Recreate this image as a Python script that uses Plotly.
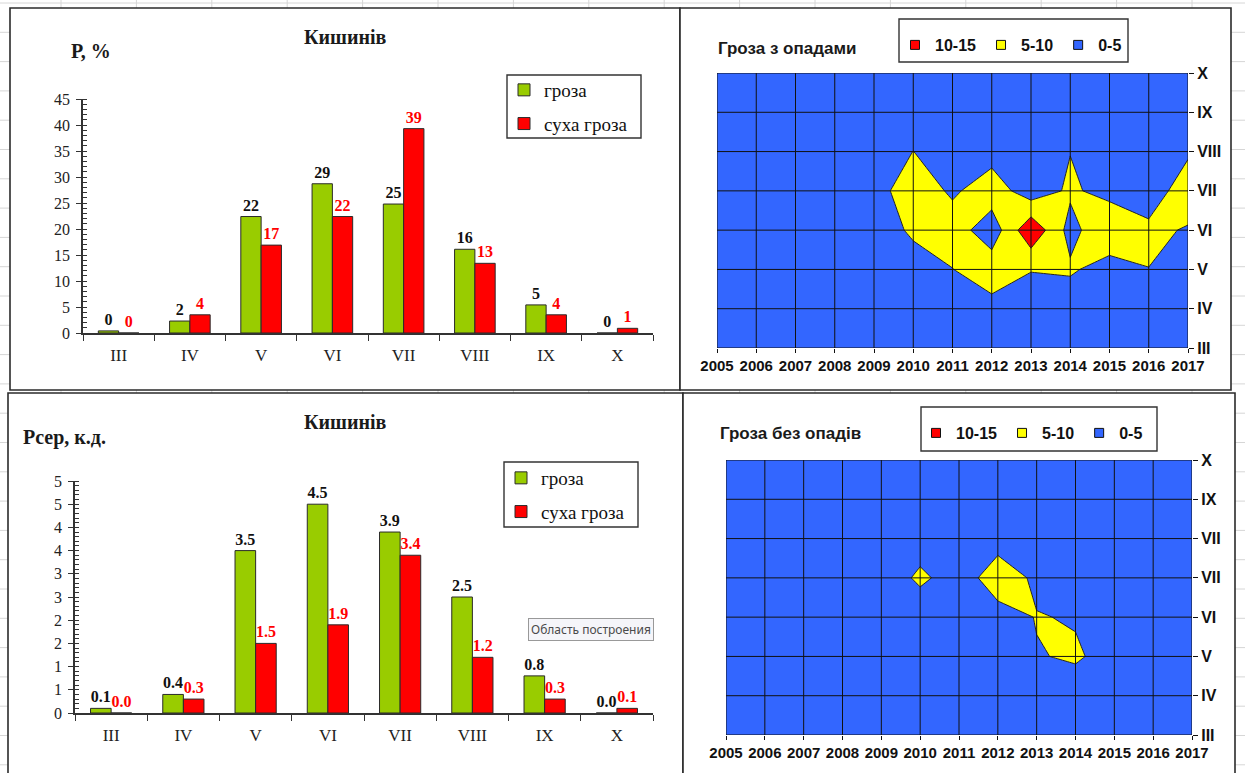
import plotly.graph_objects as go

W, H = 1245, 773

# ---------------------------------------------------------------- data
months = ["III", "IV", "V", "VI", "VII", "VIII", "IX", "X"]
month_num = [3, 4, 5, 6, 7, 8, 9, 10]
years = list(range(2005, 2018))

# Кишинів: повторюваність гроз, %
p_groza = [0.4, 2.3, 22.4, 28.7, 24.8, 16.1, 5.4, 0.0]
p_dry = [0.0, 3.5, 16.9, 22.4, 39.3, 13.4, 3.5, 0.9]
p_ticks = [0, 5, 10, 15, 20, 25, 30, 35, 40, 45]

# Кишинів: середня кількість днів з грозою
d_groza = [0.1, 0.4, 3.5, 4.5, 3.9, 2.5, 0.8, 0.0]
d_dry = [0.0, 0.3, 1.5, 1.9, 3.4, 1.2, 0.3, 0.1]
d_tick_vals = [0, 0.5, 1, 1.5, 2, 2.5, 3, 3.5, 4, 4.5, 5]
d_tick_text = ["0", "1", "1", "2", "2", "3", "3", "4", "4", "5", "5"]

# thunderstorm days by month (rows III..X) and year (columns 2005..2017)
rain_z = [
    [0, 0, 0, 0, 0, 0, 0, 0, 0, 0, 0, 0, 0],                    # III
    [0, 1, 0, 1, 1, 2, 2, 3.2, 1, 1.2, 1, 1, 0],                # IV
    [1, 0, 1, 1, 2, 4.2, 4.9, 8, 5.3, 5.8, 2.5, 4.95, 2],       # V
    [1, 1, 2, 1, 4, 5.3, 7.6, 2, 14, 3.2, 9.5, 5.8, 4.7],       # VI
    [1, 2, 1, 2, 2.8, 8.1, 4.2, 7.8, 2.2, 5.8, 3.3, 3, 7],      # VII
    [1, 1, 2, 1, 2, 5.05, 2, 3, 2, 4.9, 2, 3, 4.5],             # VIII
    [0, 1, 0, 1, 1, 1, 2, 1, 2, 1, 1, 2, 1],                    # IX
    [0, 0, 0, 0, 0, 0, 0, 0, 0, 0, 0, 0, 0],                    # X
]
dry_z = [
    [0, 0, 0, 0, 0, 0, 0, 0, 0, 0, 0, 0, 0],                    # III
    [0, 0, 0, 0, 0, 0, 1, 1, 1, 2.9, 1, 0, 0],                  # IV
    [0, 0, 1, 0, 1, 1, 1, 1, 4.75, 5.5, 3.5, 1, 0],             # V
    [0, 0, 1, 1, 1, 1, 2, 2.9, 5.2, 4.7, 2, 1, 0],              # VI
    [0, 0, 1, 1, 1, 6.2, 2.1, 8, 4, 2, 1, 1, 0],                # VII
    [0, 0, 0, 1, 1, 2, 1, 2.74, 1, 1, 0, 0, 0],                 # VIII
    [0, 0, 0, 0, 1, 0, 1, 1, 0, 0, 0, 0, 0],                    # IX
    [0, 0, 0, 0, 0, 0, 0, 0, 0, 0, 0, 0, 0],                    # X
]
band_names = ["10-15", "5-10", "0-5"]

# ---------------------------------------------------------------- style
SERIF = "Liberation Serif, Times New Roman, serif"
SANS = "Liberation Sans, Arial, sans-serif"
GREEN, RED, YELLOW, BLUE = "#99CC00", "#FF0000", "#FFFF00", "#3366FF"
INK = "#1a1a1a"


def fx(px):
    return px / W


def fy(py):
    return 1 - py / H


fig = go.Figure()


def add_bars(values, name, color, txtcolor, fmt, xa, ya, legend):
    fig.add_trace(go.Bar(
        x=months, y=values, name=name, xaxis=xa, yaxis=ya, legend=legend,
        legendgroup=legend + name,
        marker=dict(color=color, line=dict(color="#2a2a2a", width=1)),
        texttemplate="<b>" + fmt + "</b>", textposition="outside",
        textangle=0, constraintext="none", cliponaxis=False,
        textfont=dict(family=SERIF, size=16, color=txtcolor),
        hoverinfo="skip",
    ))


add_bars(p_groza, "гроза", GREEN, "#111111", "%{y:.0f}", "x", "y", "legend")
add_bars(p_dry, "суха гроза", RED, RED, "%{y:.0f}", "x", "y", "legend")
add_bars(d_groza, "гроза", GREEN, "#111111", "%{y:.1f}", "x2", "y2", "legend2")
add_bars(d_dry, "суха гроза", RED, RED, "%{y:.1f}", "x2", "y2", "legend2")

band_scale = [[0, BLUE], [0.25, BLUE], [0.25, YELLOW], [0.75, YELLOW],
              [0.75, RED], [1, RED]]
band_colors = [RED, YELLOW, BLUE]

for z, xa, ya, lg in [(rain_z, "x3", "y3", "legend3"),
                      (dry_z, "x4", "y4", "legend4")]:
    fig.add_trace(go.Contour(
        x=years, y=month_num, z=z, xaxis=xa, yaxis=ya,
        contours=dict(start=5, end=10, size=5, coloring="fill"),
        colorscale=band_scale, showscale=False,
        line=dict(color="#222222", width=1, smoothing=0),
        hoverinfo="skip", showlegend=False,
    ))
    for nm, col in zip(band_names, band_colors):
        fig.add_trace(go.Scatter(
            x=[None], y=[None], mode="markers", name=nm, xaxis=xa, yaxis=ya,
            legend=lg,
            marker=dict(symbol="square", size=9, color=col,
                        line=dict(color="#111111", width=1)),
        ))

# ---------------------------------------------------------------- shapes
shapes = []
# spreadsheet cell lines behind the chart panels
for k in range(17):
    xp = 61 + 75.4 * k
    shapes.append(dict(type="line", xref="paper", yref="paper", layer="below",
                       x0=fx(xp), x1=fx(xp), y0=0, y1=1,
                       line=dict(color="#d6d6d6", width=1)))
for k in range(27):
    yp = 3 + 29.3 * k
    shapes.append(dict(type="line", xref="paper", yref="paper", layer="below",
                       x0=0, x1=1, y0=fy(yp), y1=fy(yp),
                       line=dict(color="#d6d6d6", width=1)))

# chart panels
for (x0, y0, x1, y1) in [(10, 8, 680, 390), (680, 8, 1231, 390),
                         (8, 393, 683, 790), (683, 393, 1235, 790)]:
    shapes.append(dict(type="rect", xref="paper", yref="paper", layer="below",
                       x0=fx(x0), x1=fx(x1), y0=fy(y1), y1=fy(y0),
                       fillcolor="white", line=dict(color="#2b2b2b", width=1.6)))

# legend frames
for (x0, y0, x1, y1) in [(507, 75, 641, 138), (504, 462, 638, 527),
                         (899, 19, 1128, 62), (921, 407, 1157, 451)]:
    shapes.append(dict(type="rect", xref="paper", yref="paper", layer="below",
                       x0=fx(x0), x1=fx(x1), y0=fy(y1), y1=fy(y0),
                       fillcolor="white", line=dict(color="#333333", width=1.4)))

# cell grid drawn over the contour fills
for xa, ya in [("x3", "y3"), ("x4", "y4")]:
    for yr in years:
        shapes.append(dict(type="line", xref=xa, yref=ya, layer="above",
                           x0=yr, x1=yr, y0=month_num[0], y1=month_num[-1],
                           line=dict(color="#111111", width=1)))
    for m in month_num:
        shapes.append(dict(type="line", xref=xa, yref=ya, layer="above",
                           x0=years[0], x1=years[-1], y0=m, y1=m,
                           line=dict(color="#111111", width=1)))

# right edge of the lower map clips its axis labels
shapes.append(dict(type="rect", xref="paper", yref="paper", layer="above",
                   x0=fx(1221), x1=fx(1233), y0=fy(552), y1=fy(528),
                   fillcolor="white", line=dict(width=0)))

# ---------------------------------------------------------------- text
def note(text, x, y, size, family, xanchor="center", color=INK, bold=True, **kw):
    return dict(text=text, x=fx(x), y=fy(y), xref="paper", yref="paper",
                xanchor=xanchor, yanchor="middle", showarrow=False,
                font=dict(family=family, size=size, color=color,
                          weight="bold" if bold else "normal"), **kw)


annotations = [
    note("Кишинів", 345, 37, 20, SERIF),
    note("Р, %", 69, 51, 20, SERIF, xanchor="left"),
    note("Кишинів", 345, 422, 20, SERIF),
    note("Рсер, к.д.", 21, 437, 20, SERIF, xanchor="left"),
    note("Гроза з опадами", 716, 48, 17, SANS, xanchor="left"),
    note("Гроза без опадів", 718, 433, 17, SANS, xanchor="left"),
    note("Область построения", 591, 629, 12, "Noto Sans", color="#4a4a4a",
         bold=False, bgcolor="#f5f5f9", bordercolor="#999999", borderwidth=1,
         borderpad=2),
]

# ---------------------------------------------------------------- axes
def bar_xaxis(x0, x1, anchor):
    return dict(domain=[fx(x0), fx(x1)], anchor=anchor, type="category",
                automargin=False,
                showline=True, linecolor="#333333", linewidth=1.5,
                ticks="outside", tickson="boundaries", ticklen=6,
                tickcolor="#333333", tickwidth=1.2, ticklabelstandoff=6,
                tickfont=dict(family=SERIF, size=17, color="#222222"),
                showgrid=False, zeroline=False, fixedrange=True)


def bar_yaxis(y0, y1, anchor, rng, minor_step, **kw):
    return dict(domain=[fy(y1), fy(y0)], anchor=anchor, range=rng,
                automargin=False,
                showline=True, linecolor="#333333", linewidth=1.5,
                ticks="outside", ticklen=5, tickcolor="#333333", tickwidth=1.2,
                ticklabelstandoff=3,
                minor=dict(dtick=minor_step, ticks="inside", ticklen=4,
                           tickcolor="#333333", tickwidth=1),
                tickfont=dict(family=SERIF, size=16, color="#222222"),
                showgrid=False, zeroline=False, fixedrange=True, **kw)


def map_xaxis(x0, x1, anchor):
    return dict(domain=[fx(x0), fx(x1)], anchor=anchor, automargin=False,
                range=[years[0], years[-1]], tickvals=years, tickangle=0,
                ticks="outside", ticklen=4, tickcolor="#111111",
                tickfont=dict(family=SANS, size=15, color="#111111",
                              weight="bold"),
                showgrid=False, zeroline=False, showline=False, fixedrange=True)


def map_yaxis(y0, y1, anchor):
    return dict(domain=[fy(y1), fy(y0)], anchor=anchor, side="right",
                automargin=False,
                range=[month_num[0], month_num[-1]], tickvals=month_num,
                ticktext=months, ticks="outside", ticklen=5,
                tickcolor="#111111",
                tickfont=dict(family=SANS, size=16, color="#111111",
                              weight="bold"),
                showgrid=False, zeroline=False, showline=False, fixedrange=True)


def legend_box(x, y, size, family, horizontal=False, bold=False):
    d = dict(x=fx(x), y=fy(y), xanchor="left", yanchor="top",
             bgcolor="rgba(0,0,0,0)", borderwidth=0,
             font=dict(family=family, size=size, color="#111111",
                       weight="bold" if bold else "normal"),
             itemclick=False, itemdoubleclick=False)
    if horizontal:
        d.update(orientation="h")
    else:
        d.update(tracegroupgap=6)
    return d


fig.update_layout(
    template="none",
    width=W, height=H, autosize=False,
    margin=dict(l=0, r=0, t=0, b=0, pad=0, autoexpand=False),
    paper_bgcolor="white", plot_bgcolor="white",
    barmode="group", bargap=0.43, bargroupgap=0,
    hovermode=False, showlegend=True,
    xaxis=bar_xaxis(83, 653, "y"),
    yaxis=bar_yaxis(99, 333, "x", [0, 45], 1, tickvals=p_ticks),
    xaxis2=bar_xaxis(75, 653, "y2"),
    yaxis2=bar_yaxis(481, 713, "x2", [0, 5], 0.1,
                     tickvals=d_tick_vals, ticktext=d_tick_text),
    xaxis3=map_xaxis(717, 1188, "y3"),
    yaxis3=map_yaxis(73, 348, "x3"),
    xaxis4=map_xaxis(726, 1192, "y4"),
    yaxis4=map_yaxis(460, 735, "x4"),
    legend=legend_box(504, 71, 19, SERIF),
    legend2=legend_box(501, 459, 19, SERIF),
    legend3=legend_box(895, 28, 16, SANS, horizontal=True, bold=True),
    legend4=legend_box(916, 416, 16, SANS, horizontal=True, bold=True),
    shapes=shapes,
    annotations=annotations,
)

fig.write_html("out.html")
